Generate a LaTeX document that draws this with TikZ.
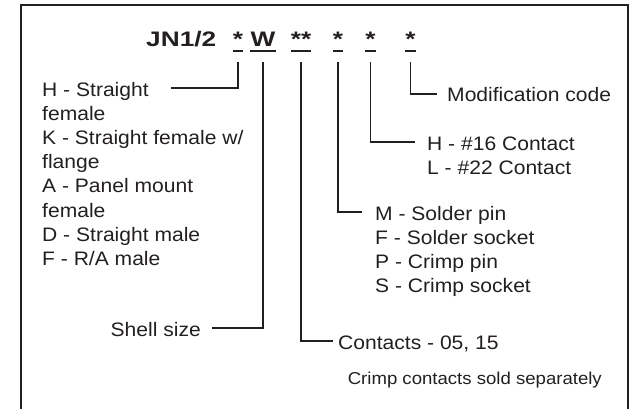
\documentclass[tikz,border=0pt]{standalone}
\usepackage{fontspec}
\setmainfont{Liberation Sans}[FakeStretch=1.08]
\newfontfamily\titlefont{Liberation Sans}[FakeStretch=1.25]
\usepackage{tikz}
\usetikzlibrary{positioning}
\definecolor{ink}{HTML}{231F20}
\tikzset{
  frame/.style={draw=ink, line width=2pt},
  link/.style={draw=ink, line width=1.6pt},
  uline/.style={draw=ink, line width=2pt},
  code/.style={inner sep=0pt, anchor=base, text=ink, font=\titlefont\bfseries\fontsize{21}{24}\selectfont},
  lbl/.style={inner sep=0pt, text=ink, align=left, font=\fontsize{19.5}{24.2}\selectfont},
  note/.style={inner sep=0pt, text=ink, font=\fontsize{17.2}{20}\selectfont}
}
\begin{document}
\begin{tikzpicture}[x=1pt, y=-1pt]
        \useasboundingbox (0,0) rectangle (631,409);
        % cadre
        \draw[frame] (21,412) -- (21,5) -- (628,5) -- (628,412);

        % code
        \node[code, anchor=base west] (pn) at (146,47) {JN1/2};
        \node[code] (c1) at (238,47) {*};
        \node[code] (c2) at (263,47) {W};
        \node[code] (c3) at (301,47) {**};
        \node[code] (c4) at (338,47) {*};
        \node[code] (c5) at (370.5,47) {*};
        \node[code] (c6) at (410.5,47) {*};
        \coordinate (ul) at (0,51);
        \coordinate (top) at (0,62);
        \foreach \c in {c1,c2,c3,c4,c5,c6}
            \draw[uline] (\c.base west |- ul) -- (\c.base east |- ul);

        % descrizioni (base = ultima riga)
        \node[lbl, anchor=base west] (shape) at (42,265.4) {H - Straight\\female\\K - Straight female w/\\flange\\A - Panel mount\\female\\D - Straight male\\F - R/A male};
        \node[lbl, anchor=base east] (shell) at (201,336) {Shell size};
        \node[lbl, anchor=base west] (cnt) at (338,349) {Contacts - 05, 15};
        \node[lbl, anchor=base west] (term) at (375,292.6) {M - Solder pin\\F - Solder socket\\P - Crimp pin\\S - Crimp socket};
        \node[lbl, anchor=base west] (size) at (427,174.2) {H - \#16 Contact\\L - \#22 Contact};
        \node[lbl, anchor=base west] (mod) at (447,102) {Modification code};
        \node[note, anchor=base east] (sold) at (602,384) {Crimp contacts sold separately};

        % linee
        \coordinate (e1) at (171,88);
        \coordinate (e2) at (212,328);
        \coordinate (e3) at (333,341);
        \coordinate (e4) at (362,212);
        \coordinate (e5) at (415,142);
        \coordinate (e6) at (437,94);
        \draw[link] (c1 |- top) |- (e1);
        \draw[link] (c2 |- top) |- (e2);
        \draw[link] (c3 |- top) |- (e3);
        \draw[link] (c4 |- top) |- (e4);
        \draw[link] (c5 |- top) |- (e5);
        \draw[link] (c6 |- top) |- (e6);
\end{tikzpicture}
\end{document}
